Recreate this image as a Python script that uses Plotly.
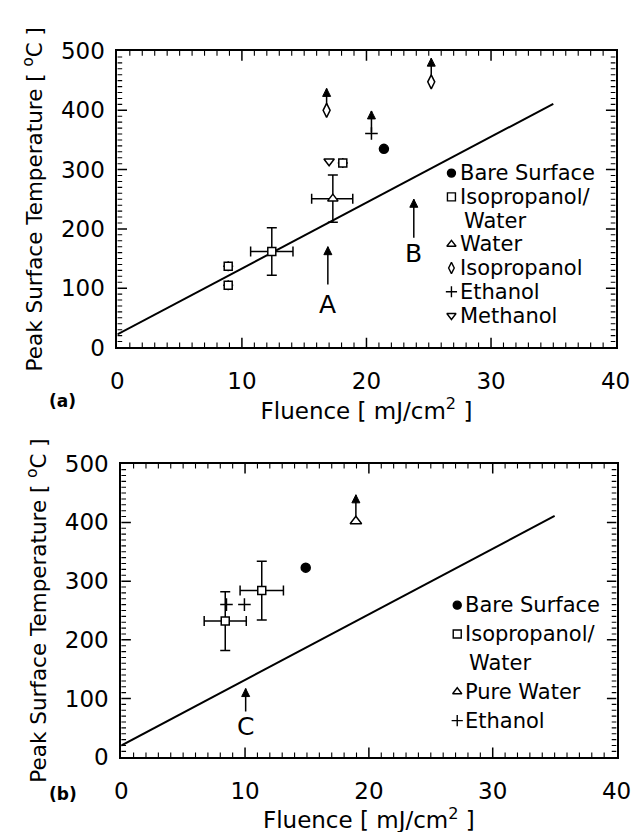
import numpy as np
import plotly.graph_objects as go

W, H = 639, 832
FONT = "DejaVu Sans"

# ---------------- data: panel (a) ----------------
fit_x = [0, 35]
fit_a_y = [22, 411]
bare_a_x = [21.4]
bare_a_y = [335]
iso_water_a_x = [8.9, 8.9, 12.4, 18.1]
iso_water_a_y = [137, 105, 162, 311]
iso_water_a_ex = [None, None, 1.7, None]
iso_water_a_ey = [None, None, 40, None]
water_a_x = [17.3]
water_a_y = [251]
water_a_ex_plus = [1.6]
water_a_ex_minus = [1.7]
water_a_ey = [40]
isoprop_a_x = [16.8, 25.2]
isoprop_a_y = [400, 448]
isoprop_a_tip = [437, 488]
ethanol_a_x = [20.4]
ethanol_a_y = [361]
ethanol_a_tip = [399]
methanol_a_x = [17.0]
methanol_a_y = [314]
letters_a = ["A", "B"]
letters_a_x = [16.9, 23.8]
letters_a_tail = [106, 185]
letters_a_tip = [170, 250]
letters_a_label_y = [73, 158]

# ---------------- data: panel (b) ----------------
fit_b_y = [20, 411]
bare_b_x = [14.9]
bare_b_y = [323]
iso_water_b_x = [8.4, 11.35]
iso_water_b_y = [232, 284]
iso_water_b_ex = [1.7, 1.75]
iso_water_b_ey = [50, 50]
pure_water_b_x = [18.95]
pure_water_b_y = [402]
pure_water_b_tip = [447]
ethanol_b_x = [8.5, 9.95]
ethanol_b_y = [260, 260]
letters_b = ["C"]
letters_b_x = [10.05]
letters_b_tail = [78]
letters_b_tip = [117]
letters_b_label_y = [53]

legend_a = [("circle", "Bare Surface"), ("square-open", "Isopropanol/"), (None, "Water"),
            ("triangle-up-open", "Water"), ("diamond-tall-open", "Isopropanol"),
            ("cross-thin-open", "Ethanol"), ("triangle-down-open", "Methanol")]
legend_b = [("circle", "Bare Surface"), ("square-open", "Isopropanol/"), (None, "Water"),
            ("triangle-up-open", "Pure Water"), ("cross-thin-open", "Ethanol")]

X_RANGE = [0, 40]
Y_RANGE = [0, 500]
x_major = [0, 10, 20, 30, 40]
y_major = [0, 100, 200, 300, 400, 500]
x_minor = [float(v) for v in np.arange(1, 40, 1) if v % 10]
y_minor = [float(v) for v in np.arange(10, 500, 10) if v % 100]

# panel geometry (pixels)
PANEL_A = dict(left=106, right=622, top=31, bottom=337)
PANEL_B = dict(left=110, right=623, top=457, bottom=760)

fig = go.Figure()


def add_line(xa, ya, fit_y):
    fig.add_trace(go.Scatter(x=fit_x, y=fit_y, mode="lines", line=dict(color="black", width=2),
                             xaxis=xa, yaxis=ya, showlegend=False, hoverinfo="skip"))


def mk(x, y, symbol, size, xa, ya, ex=None, ey=None, exm=None, filled=False):
    t = dict(x=x, y=y, mode="markers", xaxis=xa, yaxis=ya, showlegend=False,
             marker=dict(symbol=symbol, size=size, color="black" if filled else "white",
                         line=dict(color="black", width=1.5)))
    if ex is not None:
        d = dict(type="data", array=ex, color="black", thickness=1.5, width=5)
        if exm is not None:
            d["symmetric"] = False
            d["arrayminus"] = exm
        t["error_x"] = d
    if ey is not None:
        t["error_y"] = dict(type="data", array=ey, color="black", thickness=1.5, width=5)
    fig.add_trace(go.Scatter(**t))


def arrow(x, tail, tip, xa, ya):
    fig.add_trace(go.Scatter(x=[x, x], y=[tail, tip], mode="lines", xaxis=xa, yaxis=ya,
                             line=dict(color="black", width=1.5), showlegend=False, hoverinfo="skip"))
    fig.add_trace(go.Scatter(x=[x], y=[tip], mode="markers", xaxis=xa, yaxis=ya,
                             marker=dict(symbol="arrow-up", size=8, color="black",
                                         line=dict(color="black", width=1)),
                             showlegend=False, hoverinfo="skip"))


def tick_traces(xa, ya, geom):
    """Inside tick marks on all four sides, built from the tick value lists."""
    wpx = geom["right"] - geom["left"]
    hpx = geom["bottom"] - geom["top"]
    xu = (X_RANGE[1] - X_RANGE[0]) / wpx  # data units per pixel (x)
    yu = (Y_RANGE[1] - Y_RANGE[0]) / hpx  # data units per pixel (y)
    for xs_vals, ys_vals, ln, wd in ((x_major[1:-1], y_major[1:-1], 10, 1.5),
                                     (x_minor, y_minor, 5, 1.1)):
        tx, ty = [], []
        for v in xs_vals:
            tx += [v, v, None, v, v, None]
            ty += [Y_RANGE[0], Y_RANGE[0] + ln * yu, None, Y_RANGE[1], Y_RANGE[1] - ln * yu, None]
        for v in ys_vals:
            tx += [X_RANGE[0], X_RANGE[0] + ln * xu, None, X_RANGE[1], X_RANGE[1] - ln * xu, None]
            ty += [v, v, None, v, v, None]
        fig.add_trace(go.Scatter(x=tx, y=ty, mode="lines", xaxis=xa, yaxis=ya,
                                 line=dict(color="black", width=wd), showlegend=False,
                                 hoverinfo="skip", connectgaps=False))


ann = []

# panel (a)
tick_traces("x", "y", PANEL_A)
add_line("x", "y", fit_a_y)
for x, y, tip in zip(isoprop_a_x, isoprop_a_y, isoprop_a_tip):
    arrow(x, y + 8, tip, "x", "y")
for x, y, tip in zip(ethanol_a_x, ethanol_a_y, ethanol_a_tip):
    arrow(x, y + 2, tip, "x", "y")
for lab, x, t0, t1, ly in zip(letters_a, letters_a_x, letters_a_tail, letters_a_tip, letters_a_label_y):
    arrow(x, t0, t1, "x", "y")
    ann.append(dict(x=x, y=ly, xref="x", yref="y", text=lab, showarrow=False,
                    font=dict(family=FONT, size=25, color="black")))
mk(iso_water_a_x, iso_water_a_y, "square", 8, "x", "y", ex=iso_water_a_ex, ey=iso_water_a_ey)
mk(water_a_x, water_a_y, "triangle-up", 9, "x", "y", ex=water_a_ex_plus, exm=water_a_ex_minus, ey=water_a_ey)
mk(isoprop_a_x, isoprop_a_y, "diamond-tall", 10, "x", "y")
mk(ethanol_a_x, ethanol_a_y, "cross-thin", 9, "x", "y")
mk(methanol_a_x, methanol_a_y, "triangle-down", 9, "x", "y")
mk(bare_a_x, bare_a_y, "circle", 9, "x", "y", filled=True)

# panel (b)
tick_traces("x2", "y2", PANEL_B)
add_line("x2", "y2", fit_b_y)
for x, y, tip in zip(pure_water_b_x, pure_water_b_y, pure_water_b_tip):
    arrow(x, y + 8, tip, "x2", "y2")
for lab, x, t0, t1, ly in zip(letters_b, letters_b_x, letters_b_tail, letters_b_tip, letters_b_label_y):
    arrow(x, t0, t1, "x2", "y2")
    ann.append(dict(x=x, y=ly, xref="x2", yref="y2", text=lab, showarrow=False,
                    font=dict(family=FONT, size=25, color="black")))
mk(iso_water_b_x, iso_water_b_y, "square", 8, "x2", "y2", ex=iso_water_b_ex, ey=iso_water_b_ey)
mk(pure_water_b_x, pure_water_b_y, "triangle-up", 10, "x2", "y2")
mk(ethanol_b_x, ethanol_b_y, "cross-thin", 9, "x2", "y2")
mk(bare_b_x, bare_b_y, "circle", 9, "x2", "y2", filled=True)


# legends: keys drawn on an invisible full-page pixel axis, texts as annotations
def legend(items, sym_x, txt_x, y0, dy):
    kx, ky, ks = [], [], []
    for i, (sym, txt) in enumerate(items):
        py = y0 + i * dy
        if sym is not None:
            kx.append(sym_x)
            ky.append(py)
            ks.append(sym)
        ann.append(dict(x=(txt_x if sym is not None else txt_x + 4) / W, y=1 - py / H,
                        xref="paper", yref="paper", text=txt, showarrow=False,
                        xanchor="left", yanchor="middle",
                        font=dict(family=FONT, size=21, color="black")))
    fig.add_trace(go.Scatter(x=kx, y=ky, mode="markers", xaxis="x3", yaxis="y3",
                             marker=dict(symbol=ks, size=8, color="black",
                                         line=dict(color="black", width=1.4)),
                             showlegend=False, hoverinfo="skip"))


legend(legend_a, 452, 459, 157, 24.5)
legend(legend_b, 458, 464, 603, 29.8)

ann.append(dict(x=33 / W, y=1 - 392 / H, xref="paper", yref="paper", text="<b>(a)</b>",
                showarrow=False, font=dict(family=FONT, size=17, color="black")))
ann.append(dict(x=33 / W, y=1 - 810 / H, xref="paper", yref="paper", text="<b>(b)</b>",
                showarrow=False, font=dict(family=FONT, size=17, color="black")))

tickfont = dict(family=FONT, size=23, color="black")


def xax(geom, anchor, title_standoff):
    return dict(domain=[geom["left"] / W, geom["right"] / W], anchor=anchor, range=X_RANGE,
                tickmode="array", tickvals=x_major,
                ticks="", showline=True, linecolor="black", linewidth=1.8, mirror=True,
                showgrid=False, zeroline=False, tickfont=tickfont, ticklabelstandoff=12,
                title=dict(text="Fluence [ mJ/cm<sup>2</sup> ]",
                           font=dict(family=FONT, size=23, color="black"), standoff=title_standoff))


def yax(geom, anchor):
    return dict(domain=[1 - geom["bottom"] / H, 1 - geom["top"] / H], anchor=anchor, range=Y_RANGE,
                tickmode="array", tickvals=y_major,
                ticks="", showline=True, linecolor="black", linewidth=1.8, mirror=True,
                showgrid=False, zeroline=False, tickfont=tickfont, ticklabelstandoff=6,
                title=dict(text="Peak Surface Temperature [ <sup>o</sup>C ]",
                           font=dict(family=FONT, size=21.5, color="black"), standoff=12))


fig.update_layout(
    width=W, height=H,
    margin=dict(l=0, r=0, t=0, b=0),
    paper_bgcolor="white", plot_bgcolor="rgba(0,0,0,0)",
    showlegend=False,
    xaxis=xax(PANEL_A, "y", 4),
    yaxis=yax(PANEL_A, "x"),
    xaxis2=xax(PANEL_B, "y2", 3),
    yaxis2=yax(PANEL_B, "x2"),
    xaxis3=dict(domain=[0, 1], anchor="y3", range=[0, W], visible=False, fixedrange=True),
    yaxis3=dict(domain=[0, 1], anchor="x3", range=[H, 0], visible=False, fixedrange=True),
    annotations=ann,
)

fig.write_html("out.html")
